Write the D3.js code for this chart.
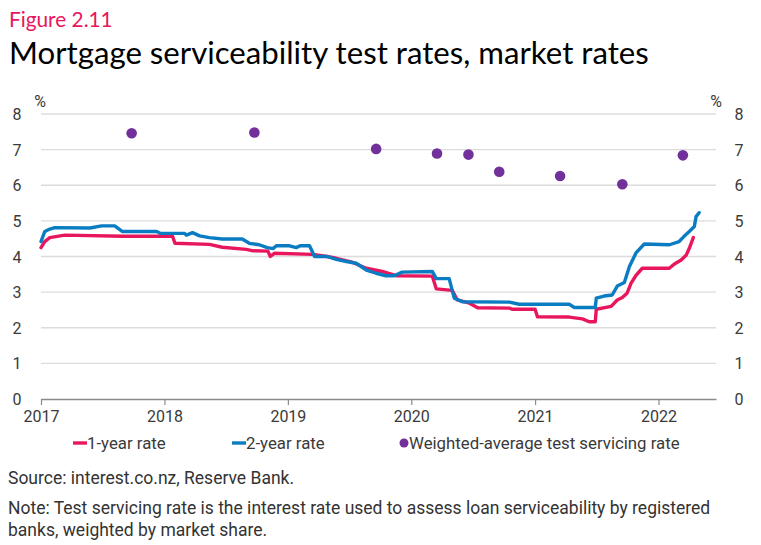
<!DOCTYPE html>
<html lang="en">
<head>
  <meta charset="UTF-8">
  <title>Figure 2.11 Mortgage serviceability test rates, market rates</title>
  <script src="https://d3js.org/d3.v7.min.js"></script>
  <style>
    body { margin: 0; background: #fff; }
    svg { display: block; }
    .grid line { stroke: #dcdcdc; stroke-width: 1.3px; }
    .tick-label { font: 16px Roboto, sans-serif; fill: #3a3a3a; }
    .legend-label { font: 16.8px Roboto, sans-serif; fill: #3a3a3a; }
    .foot { font: 17.5px Roboto, sans-serif; fill: #333; }
  </style>
</head>
<body>
  <svg width="761" height="545"></svg>
  <script>
    // 1-year advertised rate, %
    const oneYear = [
      ["2017-01-01", 4.25], ["2017-01-12", 4.42], ["2017-01-27", 4.53], ["2017-03-12", 4.60],
      ["2017-09-01", 4.57], ["2018-01-25", 4.57], ["2018-02-01", 4.37], ["2018-05-14", 4.34],
      ["2018-06-21", 4.26], ["2018-08-31", 4.20], ["2018-09-20", 4.16], ["2018-11-03", 4.15],
      ["2018-11-10", 4.00], ["2018-11-22", 4.09], ["2019-03-15", 4.06], ["2019-04-27", 4.00],
      ["2019-05-24", 3.95], ["2019-07-10", 3.84], ["2019-08-21", 3.67], ["2019-10-07", 3.58],
      ["2019-11-17", 3.46], ["2020-03-03", 3.45], ["2020-03-15", 3.09], ["2020-05-01", 3.05],
      ["2020-05-16", 2.78], ["2020-06-21", 2.69], ["2020-07-15", 2.56], ["2020-10-17", 2.55],
      ["2020-10-25", 2.52], ["2021-01-01", 2.52], ["2021-01-08", 2.31], ["2021-04-12", 2.30],
      ["2021-05-21", 2.25], ["2021-06-10", 2.17], ["2021-06-28", 2.17], ["2021-07-01", 2.52],
      ["2021-08-14", 2.60], ["2021-09-01", 2.78], ["2021-09-16", 2.85], ["2021-09-30", 2.97],
      ["2021-10-12", 3.25], ["2021-10-27", 3.48], ["2021-11-14", 3.67], ["2022-02-02", 3.67],
      ["2022-02-17", 3.79], ["2022-03-09", 3.90], ["2022-03-24", 4.04], ["2022-04-02", 4.23],
      ["2022-04-14", 4.53]
    ];

    // 2-year advertised rate, %
    const twoYear = [
      ["2017-01-01", 4.42], ["2017-01-12", 4.70], ["2017-01-27", 4.77], ["2017-02-11", 4.81],
      ["2017-05-26", 4.80], ["2017-06-29", 4.86], ["2017-08-07", 4.86], ["2017-08-30", 4.70],
      ["2017-12-09", 4.70], ["2017-12-19", 4.65], ["2018-03-01", 4.65], ["2018-03-07", 4.60],
      ["2018-03-25", 4.67], ["2018-04-15", 4.58], ["2018-05-14", 4.53], ["2018-06-21", 4.49],
      ["2018-08-19", 4.49], ["2018-09-09", 4.37], ["2018-10-08", 4.33], ["2018-11-01", 4.25],
      ["2018-11-18", 4.22], ["2018-11-28", 4.30], ["2019-01-06", 4.30], ["2019-01-26", 4.25],
      ["2019-02-06", 4.30], ["2019-03-06", 4.30], ["2019-03-21", 4.00], ["2019-04-27", 4.00],
      ["2019-05-24", 3.92], ["2019-06-23", 3.86], ["2019-07-22", 3.81], ["2019-08-21", 3.62],
      ["2019-09-19", 3.53], ["2019-10-18", 3.46], ["2019-11-11", 3.46], ["2019-12-05", 3.56],
      ["2020-03-03", 3.58], ["2020-03-15", 3.38], ["2020-04-22", 3.38], ["2020-05-07", 2.83],
      ["2020-05-31", 2.73], ["2020-10-17", 2.72], ["2020-11-15", 2.66], ["2021-04-12", 2.66],
      ["2021-04-27", 2.57], ["2021-06-28", 2.57], ["2021-07-01", 2.83], ["2021-07-24", 2.89],
      ["2021-08-17", 2.92], ["2021-09-01", 3.17], ["2021-09-22", 3.27], ["2021-10-07", 3.72],
      ["2021-10-27", 4.11], ["2021-11-20", 4.35], ["2022-02-02", 4.33], ["2022-03-03", 4.42],
      ["2022-03-17", 4.56], ["2022-04-02", 4.70], ["2022-04-17", 4.84], ["2022-04-22", 5.12],
      ["2022-05-01", 5.23]
    ];

    // Weighted-average test servicing rate, %
    const testRate = [
      ["2017-09-26", 7.46], ["2018-09-24", 7.48], ["2019-09-19", 7.02], ["2020-03-17", 6.89],
      ["2020-06-18", 6.86], ["2020-09-17", 6.38], ["2021-03-16", 6.26], ["2021-09-16", 6.03],
      ["2022-03-14", 6.84]
    ];

    const yTicks = [0, 1, 2, 3, 4, 5, 6, 7, 8];
    const yearTicks = ["2017", "2018", "2019", "2020", "2021", "2022"];
    const legendItems = [
      { label: "1-year rate", color: "#e8175d", type: "line" },
      { label: "2-year rate", color: "#0a7cc1", type: "line" },
      { label: "Weighted-average test servicing rate", color: "#71309a", type: "dot" }
    ];

    const parse = d3.timeParse("%Y-%m-%d");
    const svg = d3.select("svg");

    const x = d3.scaleTime()
      .domain([parse("2017-01-01"), parse("2022-06-20")])
      .range([41, 716]);
    const y = d3.scaleLinear().domain([0, 8]).range([399, 114]);

    // titles
    svg.append("text")
      .attr("x", 9).attr("y", 27)
      .attr("fill", "#e8175d")
      .style("font", "20.8px Lato, sans-serif")
      .text("Figure 2.11");
    svg.append("text")
      .attr("x", 9).attr("y", 64)
      .attr("fill", "#000")
      .style("font", "31.2px Lato, sans-serif")
      .text("Mortgage serviceability test rates, market rates");

    // horizontal gridlines
    svg.append("g").attr("class", "grid")
      .selectAll("line")
      .data(yTicks.filter(d => d > 0))
      .join("line")
        .attr("x1", 41).attr("x2", 716)
        .attr("y1", d => y(d)).attr("y2", d => y(d));

    // left and right value labels
    svg.append("g").selectAll("text")
      .data(yTicks).join("text")
        .attr("class", "tick-label")
        .attr("x", 17).attr("y", d => y(d) + 6)
        .attr("text-anchor", "middle")
        .text(d => d);
    svg.append("g").selectAll("text")
      .data(yTicks).join("text")
        .attr("class", "tick-label")
        .attr("x", 739).attr("y", d => y(d) + 6)
        .attr("text-anchor", "middle")
        .text(d => d);
    svg.append("text").attr("class", "tick-label")
      .attr("x", 40).attr("y", 107).attr("text-anchor", "middle").text("%");
    svg.append("text").attr("class", "tick-label")
      .attr("x", 716).attr("y", 107).attr("text-anchor", "middle").text("%");

    // x axis
    const xAxis = d3.axisBottom(x)
      .tickValues(yearTicks.map(d => parse(d + "-01-01")))
      .tickFormat(d3.timeFormat("%Y"))
      .tickSize(6)
      .tickSizeOuter(0);
    const gx = svg.append("g")
      .attr("transform", "translate(0,399)")
      .call(xAxis);
    gx.select(".domain").attr("stroke", "#8a8a8a").attr("stroke-width", 1.5);
    gx.selectAll(".tick line").attr("stroke", "#8a8a8a").attr("stroke-width", 1.2);
    gx.selectAll(".tick text")
      .attr("class", "tick-label")
      .attr("y", 12)
      .attr("fill", null);

    // lines
    const line = d3.line()
      .x(d => x(parse(d[0])))
      .y(d => y(d[1]));

    svg.append("path")
      .datum(oneYear)
      .attr("fill", "none")
      .attr("stroke", legendItems[0].color)
      .attr("stroke-width", 3.4)
      .attr("stroke-linejoin", "round")
      .attr("stroke-linecap", "round")
      .attr("d", line);

    svg.append("path")
      .datum(twoYear)
      .attr("fill", "none")
      .attr("stroke", legendItems[1].color)
      .attr("stroke-width", 3.4)
      .attr("stroke-linejoin", "round")
      .attr("stroke-linecap", "round")
      .attr("d", line);

    // test servicing rate dots
    svg.append("g").selectAll("circle")
      .data(testRate).join("circle")
        .attr("cx", d => x(parse(d[0])))
        .attr("cy", d => y(d[1]))
        .attr("r", 5.3)
        .attr("fill", legendItems[2].color);

    // legend
    const legendX = [73, 232, 404];
    const lg = svg.append("g").selectAll("g")
      .data(legendItems).join("g")
        .attr("transform", (d, i) => `translate(${legendX[i]},443)`);
    lg.filter(d => d.type === "line").append("line")
      .attr("x1", 0).attr("x2", 14)
      .attr("stroke", d => d.color).attr("stroke-width", 3.4);
    lg.filter(d => d.type === "dot").append("circle")
      .attr("cx", 0).attr("r", 4.5)
      .attr("fill", d => d.color);
    lg.append("text")
      .attr("class", "legend-label")
      .attr("x", d => d.type === "line" ? 14 : 5)
      .attr("y", 6)
      .text(d => d.label);

    // source and note
    const footLines = [
      { text: "Source: interest.co.nz, Reserve Bank.", y: 484 },
      { text: "Note: Test servicing rate is the interest rate used to assess loan serviceability by registered", y: 514 },
      { text: "banks, weighted by market share.", y: 536 }
    ];
    svg.append("g").selectAll("text")
      .data(footLines).join("text")
        .attr("class", "foot")
        .attr("x", 8).attr("y", d => d.y)
        .text(d => d.text);
  </script>
</body>
</html>
